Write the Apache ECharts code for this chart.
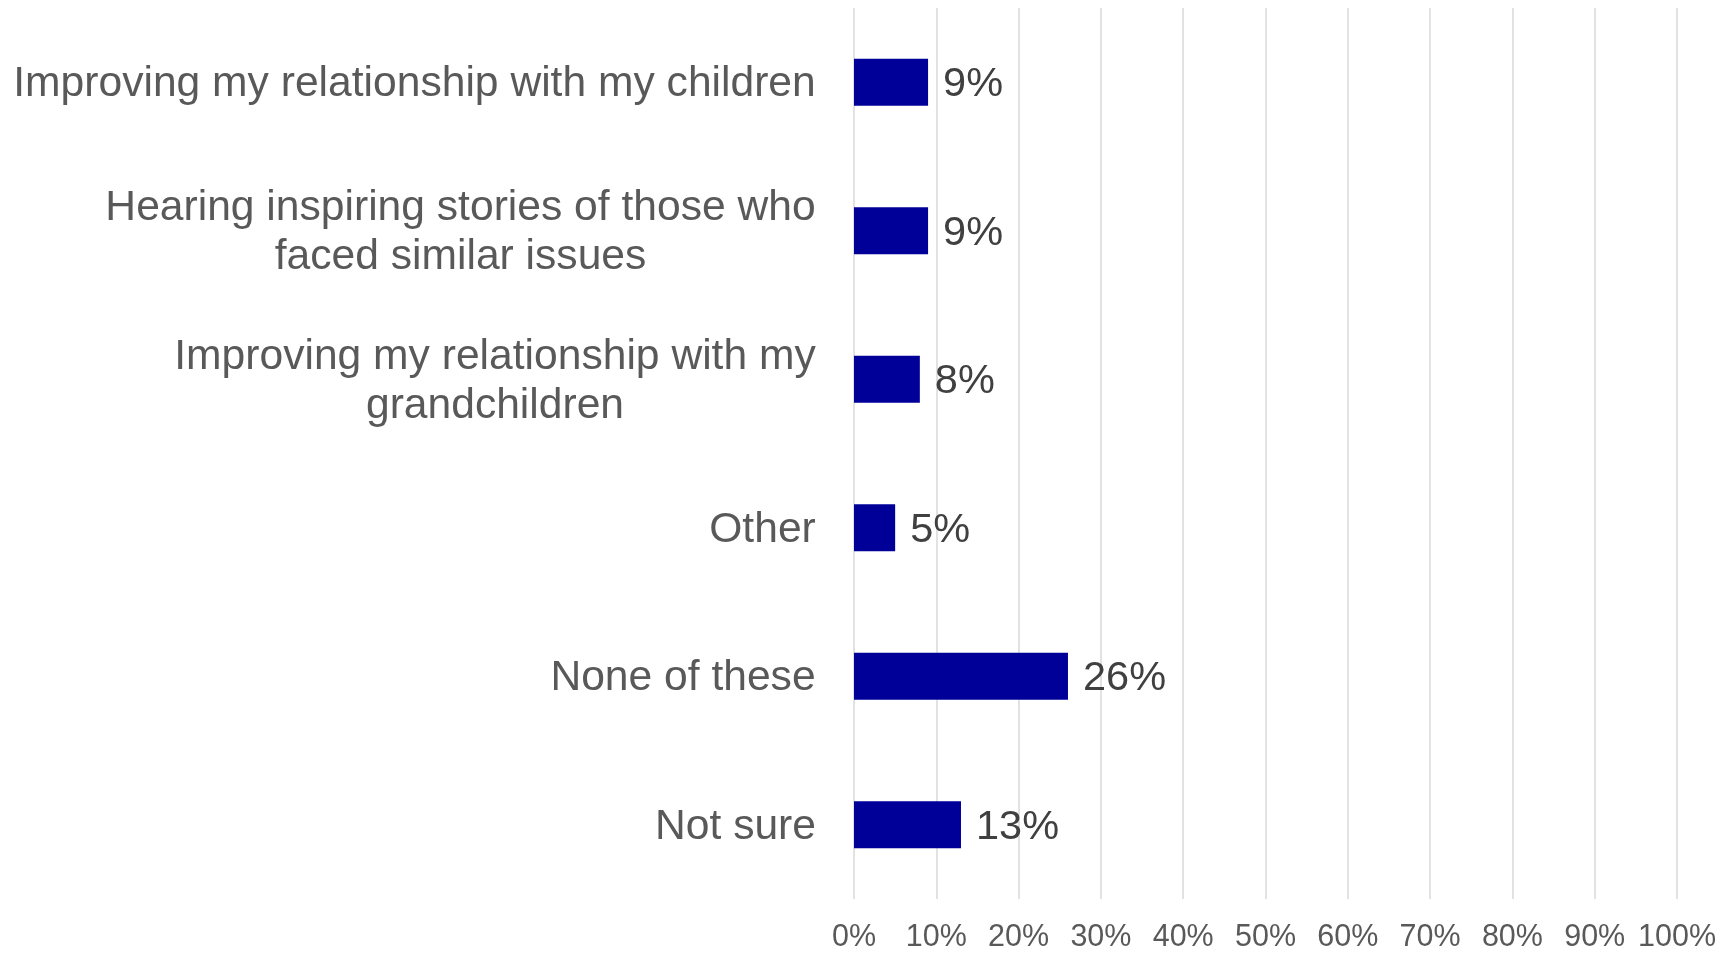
<!DOCTYPE html>
<html>
<head>
<meta charset="utf-8">
<script src="https://cdn.jsdelivr.net/npm/echarts@6/dist/echarts.min.js"></script>
<style>
html,body{margin:0;padding:0;background:#fff;}
#chart{width:1736px;height:953px;}
</style>
</head>
<body>
<div id="chart"></div>
<script>
const categories = [
  "Improving my relationship with my children",
  "Hearing inspiring stories of those who\nfaced similar issues",
  "Improving my relationship with my\ngrandchildren",
  "Other",
  "None of these",
  "Not sure"
];
const values = [9, 9, 8, 5, 26, 13];
const tickLabels = ["0%", "10%", "20%", "30%", "40%", "50%", "60%", "70%", "80%", "90%", "100%"];

const FONT = '"Liberation Sans", Arial, sans-serif';
const CAT_SIZE = 42.6;
const canvas = document.createElement('canvas');
const ctx = canvas.getContext('2d');
ctx.font = CAT_SIZE + 'px "Liberation Sans"';
const rich = {};
categories.forEach((c, i) => {
  const w = Math.max(...c.split('\n').map(l => ctx.measureText(l).width));
  rich['c' + i] = {
    width: Math.ceil(w),
    align: 'center',
    fontSize: CAT_SIZE,
    fontFamily: FONT,
    color: '#595959',
    lineHeight: 49
  };
});

const chart = echarts.init(document.getElementById('chart'), null, {renderer: 'canvas'});
chart.setOption({
  animation: false,
  grid: {left: 854, right: 59, top: 8, bottom: 52, containLabel: false},
  xAxis: {
    type: 'value',
    min: 0, max: 100, interval: 10,
    axisLine: {show: false},
    axisTick: {show: false},
    splitLine: {show: true, lineStyle: {color: '#d9d9d9', width: 1.5}},
    axisLabel: {
      fontSize: 30.5, fontFamily: FONT, color: '#595959', margin: 23,
      formatter: (v) => tickLabels[Math.round(v / 10)]
    }
  },
  yAxis: {
    type: 'category',
    inverse: true,
    data: categories,
    axisLine: {show: false},
    axisTick: {show: false},
    axisLabel: {
      margin: 38,
      padding: [4, 0, 0, 0],
      formatter: (v, idx) => v.split('\n').map(l => '{c' + idx + '|' + l + '}').join('\n'),
      rich: rich
    }
  },
  series: [{
    type: 'bar',
    data: values,
    barWidth: 47,
    itemStyle: {color: '#000099'},
    label: {
      show: true,
      position: 'right',
      distance: 15,
      offset: [0, 2.5],
      formatter: '{c}%',
      fontSize: 41.5,
      fontFamily: FONT,
      color: '#404040'
    }
  }]
});
</script>
</body>
</html>
